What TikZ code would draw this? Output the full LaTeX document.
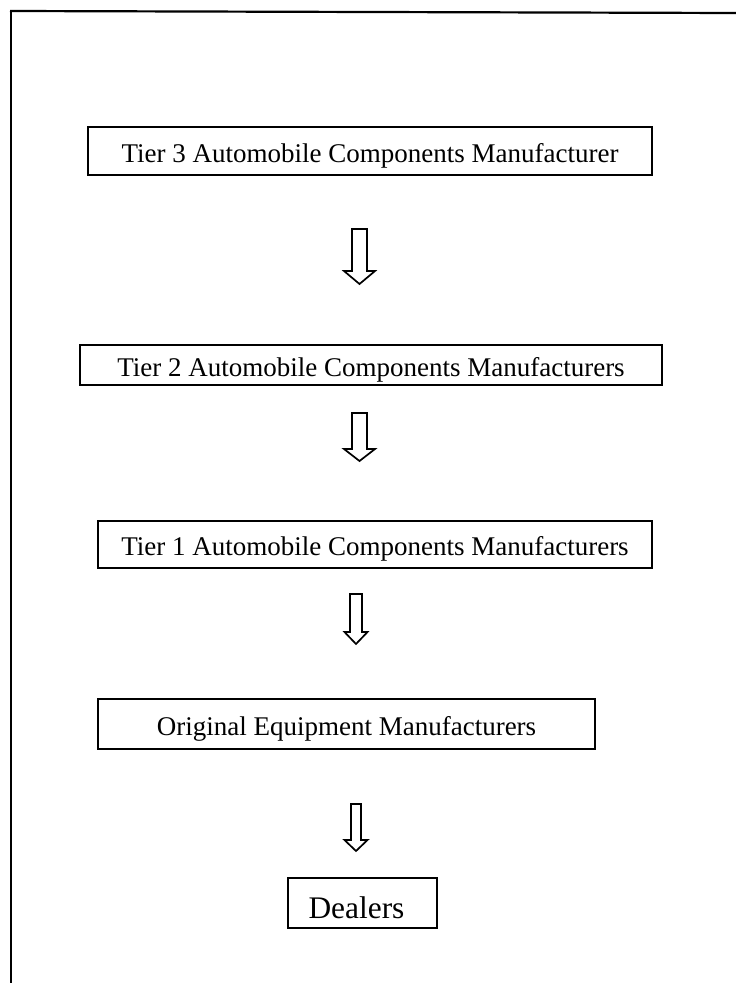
\documentclass[tikz,border=0pt]{standalone}
\usepackage{fontspec}
\setmainfont{Liberation Serif}
\usepackage{tikz}

\tikzset{
	tierbox/.style={draw, line width=1.6pt, rectangle, inner sep=2pt, text height=26pt, text depth=4pt},
	hollowarrow/.style={draw, line width=1.7pt, line join=miter, fill=white},
}

\begin{document}
\begin{tikzpicture}[x=1pt, y=-1pt, font=\fontsize{27}{32}\selectfont]
		\useasboundingbox (0,0) rectangle (736,985);
		% frame
		\draw[line width=2.2pt] (10,11) -- (736,13);
		\draw[line width=2.2pt] (11,11) -- (11,983);
		
		\node[tierbox, minimum width=564pt, minimum height=48pt] (t3)  at (370,151)   {Tier 3 Automobile Components Manufacturer};
		\node[tierbox, minimum width=582pt, minimum height=40pt] (t2)  at (371,365)   {Tier 2 Automobile Components Manufacturers};
		\node[tierbox, minimum width=554pt, minimum height=47pt] (t1)  at (375,544.5) {Tier 1 Automobile Components Manufacturers};
		\node[tierbox, minimum width=497pt, minimum height=50pt] (oem) at (346.5,724) {Original Equipment Manufacturers};
		\node[tierbox, minimum width=149pt, minimum height=50pt, text height=34pt, font=\fontsize{31.4}{36}\selectfont] (dl) at (362.5,903) {Dealers\kern12pt};
		
		% block arrows between the tiers
		\foreach \cx/\ty/\sw/\hw/\hy/\py in {359.5/229/7.5/15.5/271/284, 359.5/413/7.5/15.5/449/461, 356/594/6/11.5/632/644, 356/804/5/11.5/840/851}
			\draw[hollowarrow] ({\cx-\sw},\ty) -- ({\cx+\sw},\ty) -- ({\cx+\sw},\hy) -- ({\cx+\hw},\hy)
				-- (\cx,\py) -- ({\cx-\hw},\hy) -- ({\cx-\sw},\hy) -- cycle;
	\end{tikzpicture}
\end{document}
